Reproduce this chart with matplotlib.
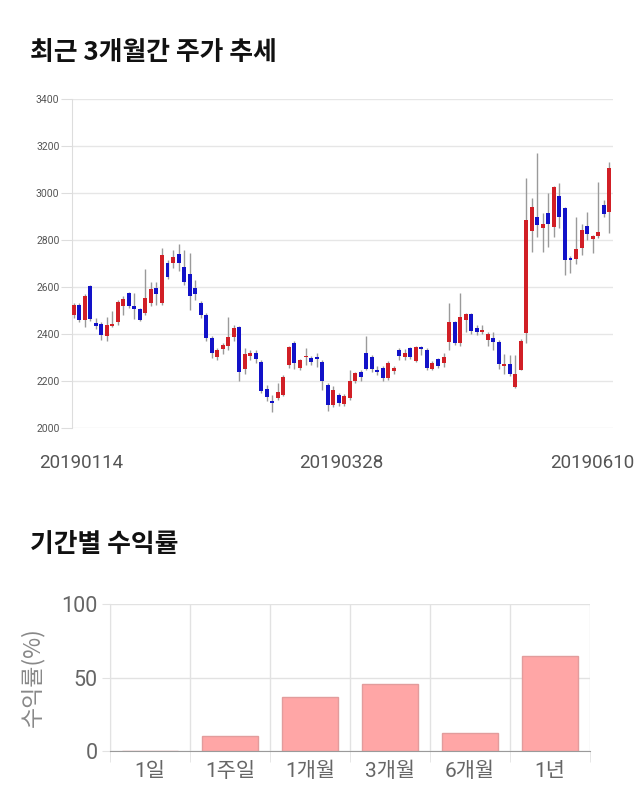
import matplotlib
matplotlib.use("Agg")
import matplotlib.pyplot as plt
import numpy as np

# ---------------- data ----------------
opens = [2481, 2523, 2460, 2604, 2447, 2443, 2391, 2434, 2451, 2519,
         2574, 2519, 2506, 2489, 2532, 2596, 2532, 2702, 2702, 2740,
         2685, 2655, 2596, 2532, 2481, 2383, 2302, 2336, 2349, 2387,
         2430, 2251, 2306, 2319, 2281, 2166, 2115, 2128, 2140, 2268,
         2362, 2255, 2302, 2298, 2302, 2281, 2183, 2098, 2140, 2102,
         2128, 2200, 2238, 2319, 2302, 2247, 2255, 2213, 2243, 2332,
         2302, 2340, 2285, 2345, 2332, 2251, 2294, 2277, 2366, 2451,
         2362, 2460, 2485, 2426, 2409, 2375, 2383, 2366, 2264, 2272,
         2174, 2247, 2404, 2838, 2898, 2851, 2915, 2855, 2987, 2936,
         2723, 2719, 2766, 2860, 2804, 2817, 2949, 2919]
highs = [2530, 2530, 2570, 2610, 2470, 2450, 2472, 2498, 2545, 2560,
         2580, 2574, 2510, 2677, 2620, 2620, 2766, 2715, 2757, 2783,
         2757, 2745, 2630, 2540, 2490, 2390, 2340, 2362, 2472, 2440,
         2435, 2340, 2330, 2330, 2290, 2185, 2140, 2190, 2225, 2350,
         2370, 2295, 2340, 2305, 2320, 2290, 2190, 2180, 2150, 2145,
         2247, 2240, 2245, 2391, 2310, 2262, 2262, 2285, 2265, 2340,
         2335, 2345, 2350, 2350, 2340, 2285, 2300, 2320, 2532, 2455,
         2574, 2490, 2490, 2440, 2440, 2410, 2410, 2375, 2315, 2310,
         2310, 2380, 3064, 2979, 3170, 2915, 3000, 3030, 3043, 2940,
         2730, 2898, 2868, 2919, 2820, 3047, 2970, 3132]
lows = [2470, 2450, 2430, 2455, 2420, 2375, 2370, 2430, 2440, 2480,
        2510, 2464, 2455, 2480, 2520, 2525, 2525, 2635, 2680, 2670,
        2610, 2502, 2545, 2470, 2370, 2300, 2290, 2315, 2330, 2370,
        2200, 2230, 2290, 2275, 2150, 2115, 2068, 2120, 2135, 2255,
        2250, 2245, 2270, 2270, 2260, 2160, 2072, 2090, 2095, 2095,
        2120, 2190, 2200, 2245, 2240, 2225, 2200, 2205, 2230, 2290,
        2290, 2295, 2280, 2310, 2245, 2245, 2255, 2260, 2330, 2355,
        2350, 2410, 2400, 2395, 2400, 2350, 2330, 2250, 2230, 2220,
        2170, 2245, 2362, 2749, 2813, 2749, 2770, 2813, 2850, 2651,
        2660, 2700, 2736, 2800, 2745, 2810, 2900, 2830]
closes = [2523, 2460, 2562, 2464, 2434, 2396, 2438, 2443, 2536, 2549,
          2519, 2506, 2460, 2553, 2591, 2570, 2736, 2643, 2728, 2702,
          2621, 2562, 2570, 2481, 2383, 2319, 2332, 2353, 2387, 2426,
          2238, 2315, 2319, 2294, 2157, 2132, 2106, 2153, 2217, 2345,
          2277, 2289, 2308, 2281, 2294, 2200, 2098, 2162, 2106, 2136,
          2200, 2234, 2217, 2251, 2251, 2238, 2213, 2277, 2255, 2306,
          2319, 2302, 2345, 2336, 2255, 2277, 2264, 2302, 2451, 2362,
          2472, 2485, 2413, 2409, 2417, 2400, 2366, 2272, 2272, 2230,
          2230, 2370, 2885, 2940, 2864, 2868, 2868, 3026, 2898, 2715,
          2715, 2762, 2843, 2826, 2817, 2834, 2911, 3106]
date_labels = ["20190114", "20190328", "20190610"]
price_ticks = [2000, 2200, 2400, 2600, 2800, 3000, 3200, 3400]

periods = ["1일", "1주일", "1개월", "3개월", "6개월", "1년"]
returns = [0.0, 10.0, 36.4, 45.7, 12.2, 64.8]

# ---------------- figure ----------------
W, H = 640, 810
fig = plt.figure(figsize=(W / 100, H / 100), dpi=100)
fig.patch.set_facecolor("white")

KR = ["Noto Sans CJK KR", "DejaVu Sans"]
NUM = ["Roboto", "Noto Sans CJK KR", "DejaVu Sans"]

def box(l, t, r, b):
    return [l / W, 1 - b / H, (r - l) / W, (b - t) / H]

fig.text(30 / W, 1 - 52 / H, "최근 3개월간 주가 추세", family=KR, weight="bold",
         fontsize=18.6, color="#111111", va="center", ha="left")
fig.text(30 / W, 1 - 545 / H, "기간별 수익률", family=KR, weight="bold",
         fontsize=18.6, color="#111111", va="center", ha="left")

# ---------------- candlestick ----------------
ax = fig.add_axes(box(72, 99, 613, 428))
n = len(opens)
x = np.arange(n)
o = np.array(opens, float)
c = np.array(closes, float)
hi = np.array(highs, float)
lo = np.array(lows, float)
up = c >= o
red, blue = "#d11f26", "#1212c8"
cols = np.where(up, red, blue)
ax.vlines(x, lo, hi, color="#9a9a9a", lw=1, zorder=2)
bottoms = np.minimum(o, c)
heights = np.maximum(np.abs(c - o), 5)
ax.bar(x, heights, bottom=bottoms, width=0.72, color=cols, lw=0, zorder=3)

ax.set_xlim(-0.3, n - 0.3)
ax.set_ylim(2000, 3400)
ax.set_yticks(price_ticks)
ax.set_yticklabels([str(v) for v in price_ticks], family=NUM, fontsize=7.5, color="#555555")
ax.grid(axis="y", color="#e6e6e6", lw=1)
ax.set_axisbelow(True)
for s in ["top", "right", "bottom"]:
    ax.spines[s].set_visible(False)
ax.spines["left"].set_color("#dddddd")
ax.tick_params(axis="y", length=8, color="#dddddd", pad=1)
ax.set_xticks([1.3, 48.5, 93.9])
ax.set_xticklabels(date_labels, family=NUM, fontsize=13.5, color="#555555")
ax.tick_params(axis="x", length=0, pad=19)

# ---------------- returns bar chart ----------------
bx = fig.add_axes(box(110, 604, 590, 751))
xp = np.arange(len(periods))
bx.bar(xp, returns, width=0.7, color="#ffa6a6", edgecolor="#e29c9c", lw=1, zorder=3)
bx.set_xlim(-0.5, len(periods) - 0.5)
bx.set_ylim(0, 100)
bx.set_yticks([0, 50, 100])
bx.set_yticklabels(["0", "50", "100"], family=NUM, fontsize=15.5, color="#666666")
bx.set_xticks(xp)
bx.set_xticklabels(periods, family=NUM, fontsize=15, color="#666666")
bx.set_xticks(np.arange(-0.5, len(periods)), minor=True)
bx.tick_params(axis="x", which="major", length=0, pad=8)
bx.tick_params(axis="x", which="minor", length=8, color="#e2e2e2")
bx.tick_params(axis="y", length=6, color="#e2e2e2", pad=3)
bx.grid(axis="y", color="#e2e2e2", lw=1)
bx.grid(axis="x", which="minor", color="#e2e2e2", lw=1)
bx.set_axisbelow(True)
for s in ["top", "right"]:
    bx.spines[s].set_visible(False)
bx.spines["left"].set_color("#e2e2e2")
bx.spines["bottom"].set_color("#9a9a9a")
bx.spines["bottom"].set_zorder(4)
bx.set_ylabel("수익률(%)", family=KR, fontsize=16.5, color="#888888", labelpad=12)

fig.savefig("out.png", dpi=100, facecolor="white")
